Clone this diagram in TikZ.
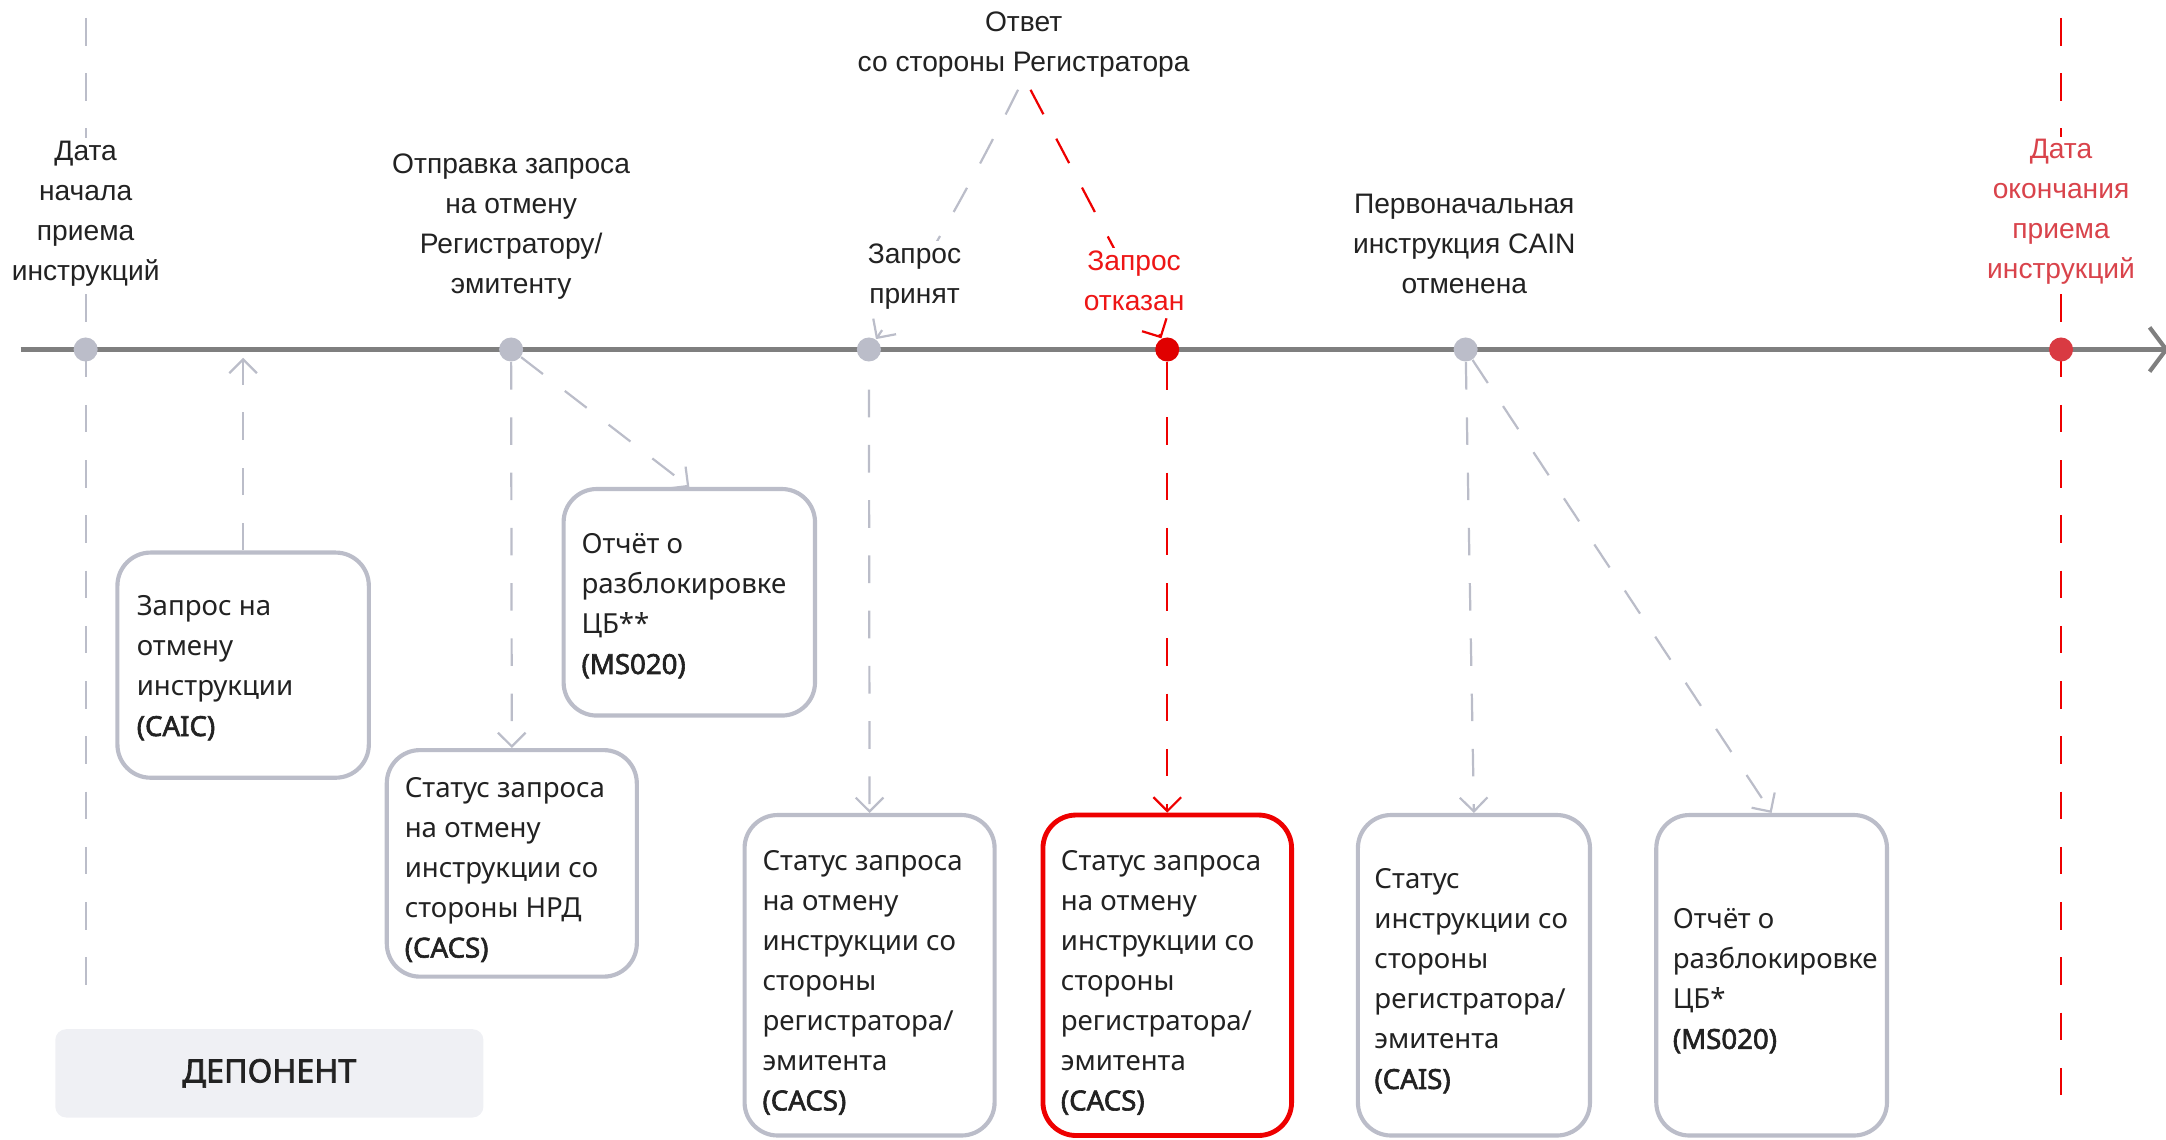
\documentclass[tikz,border=0pt]{standalone}
\usepackage{fontspec}
\setmainfont{Noto Sans}[AutoFakeBold=2.2]
\newfontfamily\lblfont{Liberation Sans}
\usetikzlibrary{arrows.meta,backgrounds}
\definecolor{tline}{HTML}{7F7F7F}
\definecolor{gr}{HTML}{BBBDC9}
\definecolor{txt}{HTML}{222222}
\definecolor{redA}{HTML}{EE0000}
\definecolor{redD}{HTML}{E00000}
\definecolor{redB}{HTML}{D93A42}
\definecolor{redT}{HTML}{EE1616}
\definecolor{redT2}{HTML}{D9434B}
\definecolor{depfill}{HTML}{EFF0F4}
\newcommand{\bxt}[3]{\raisebox{-#2}[\height][\depth]{\makebox[#1][l]{\begin{tabular}{@{}l@{}}#3\end{tabular}}}}
\begin{document}
\begin{tikzpicture}[x=0.5pt,y=-0.5pt,
  lbl/.style={font=\lblfont\fontsize{10.2}{14.5}\selectfont, align=center, fill=white, inner sep=1pt, text=txt},
  dotg/.style={circle, fill=gr, minimum size=8.7pt, inner sep=0pt},
  boxs/.style={draw=gr, line width=1.5pt, rounded corners=12pt, fill=white, inner sep=0pt,
     font=\fontsize{10}{14.5}\selectfont, text=txt},
  con/.style={draw=gr, line width=0.8pt, dash pattern=on 10pt off 10pt,
     -{Straight Barb[length=5pt,width=10pt]}},
  conr/.style={con, draw=redA},
  vline/.style={draw=gr, line width=0.8pt, dash pattern=on 10pt off 10pt},
  dep/.style={fill=depfill, rounded corners=4pt, minimum width=155pt, minimum height=32pt,
     inner sep=0pt, font=\bfseries\fontsize{11.7}{14}\selectfont, text=txt}
]
\useasboundingbox (0,0) rectangle (1568,825);

% labels
\node[lbl] (l1) at (62,154.5) {Дата\\начала\\приема\\инструкций};
\node[lbl] (l2) at (370,164) {Отправка запроса\\на отмену\\Регистратору/\\эмитенту};
\node[lbl] (l3) at (741,32.5) {Ответ\\со стороны Регистратора};
\node[lbl] (l4) at (662,200.5) {Запрос\\принят};
\node[lbl, text=redT] (l5) at (821,203) {Запрос\\отказан};
\node[lbl] (l6) at (1060,176.5) {Первоначальная\\инструкция CAIN\\отменена};
\node[lbl, text=redT2] (l7) at (1492,153.5) {Дата\\окончания\\приема\\инструкций};

% dots
\node[dotg] (d1) at (62,253) {};
\node[dotg] (d2) at (370,253) {};
\node[dotg] (d3) at (629,253) {};
\node[dotg, fill=redD] (d4) at (845,253) {};
\node[dotg] (d5) at (1061,253) {};
\node[dotg, fill=redB] (d6) at (1492,253) {};

% boxes
\node[boxs, minimum width=91pt, minimum height=81.5pt] (b1) at (176,481.5)
  {\bxt{77pt}{1pt}{Запрос на\\отмену\\инструкции\\\textbf{(CAIC)}}};
\node[boxs, minimum width=90.5pt, minimum height=82pt] (b2) at (370.5,625)
  {\bxt{77.5pt}{2.2pt}{Статус запроса\\на отмену\\инструкции со\\стороны НРД\\\textbf{(CACS)}}};
\node[boxs, minimum width=91pt, minimum height=82pt] (b3) at (499,436)
  {\bxt{78pt}{1.3pt}{Отчёт о\\разблокировке\\ЦБ**\\\textbf{(MS020)}}};
\node[boxs, minimum width=90.5pt, minimum height=116pt] (b4) at (629.5,706)
  {\bxt{77.5pt}{2.5pt}{Статус запроса\\на отмену\\инструкции со\\стороны\\регистратора/\\эмитента\\\textbf{(CACS)}}};
\node[boxs, draw=redA, line width=1.75pt, minimum width=90pt, minimum height=116pt] (b5) at (845,706)
  {\bxt{77pt}{2.5pt}{Статус запроса\\на отмену\\инструкции со\\стороны\\регистратора/\\эмитента\\\textbf{(CACS)}}};
\node[boxs, minimum width=84pt, minimum height=116pt] (b6) at (1067,706)
  {\bxt{72pt}{2pt}{Статус\\инструкции со\\стороны\\регистратора/\\эмитента\\\textbf{(CAIS)}}};
\node[boxs, minimum width=83.5pt, minimum height=116pt] (b7) at (1282.5,706)
  {\bxt{71.5pt}{2pt}{Отчёт о\\разблокировке\\ЦБ*\\\textbf{(MS020)}}};

\node[dep] (dep) at (195,777) {ДЕПОНЕНТ};

% coordinates
\coordinate (tl0) at (15,253);
\coordinate (tl1) at (1570,253);
\coordinate (vt1) at (62,13);
\coordinate (vb1) at (62,722);
\coordinate (vt6) at (1492,13);
\coordinate (vb6) at (1492,795);
\coordinate (cA) at (176,259);
\coordinate (oG) at (737,65);
\coordinate (oR) at (746,65);

\begin{scope}[on background layer]
  \draw[vline] (vt1) -- (vb1);
  \draw[vline, draw=redA] (vt6) -- (vb6);
  \draw[tline, line width=1.5pt, -{Straight Barb[length=6pt,width=16pt]}] (tl0) -- (tl1);
  \draw[con] (oG) .. controls (707,125) and (670,193) .. (d3);
  \draw[conr] (oR) -- (d4);
\end{scope}

\draw[con] (b1.north) -- (cA);
\draw[con] (d2) -- (b2.north);
\draw[con] (d2) -- (b3.north);
\draw[con, dash phase=10pt] (d3) -- (b4.north);
\draw[conr] (d4) -- (b5.north);
\draw[con] (d5) -- (b6.north);
\draw[con] (d5) -- (b7.north);
\end{tikzpicture}
\end{document}
